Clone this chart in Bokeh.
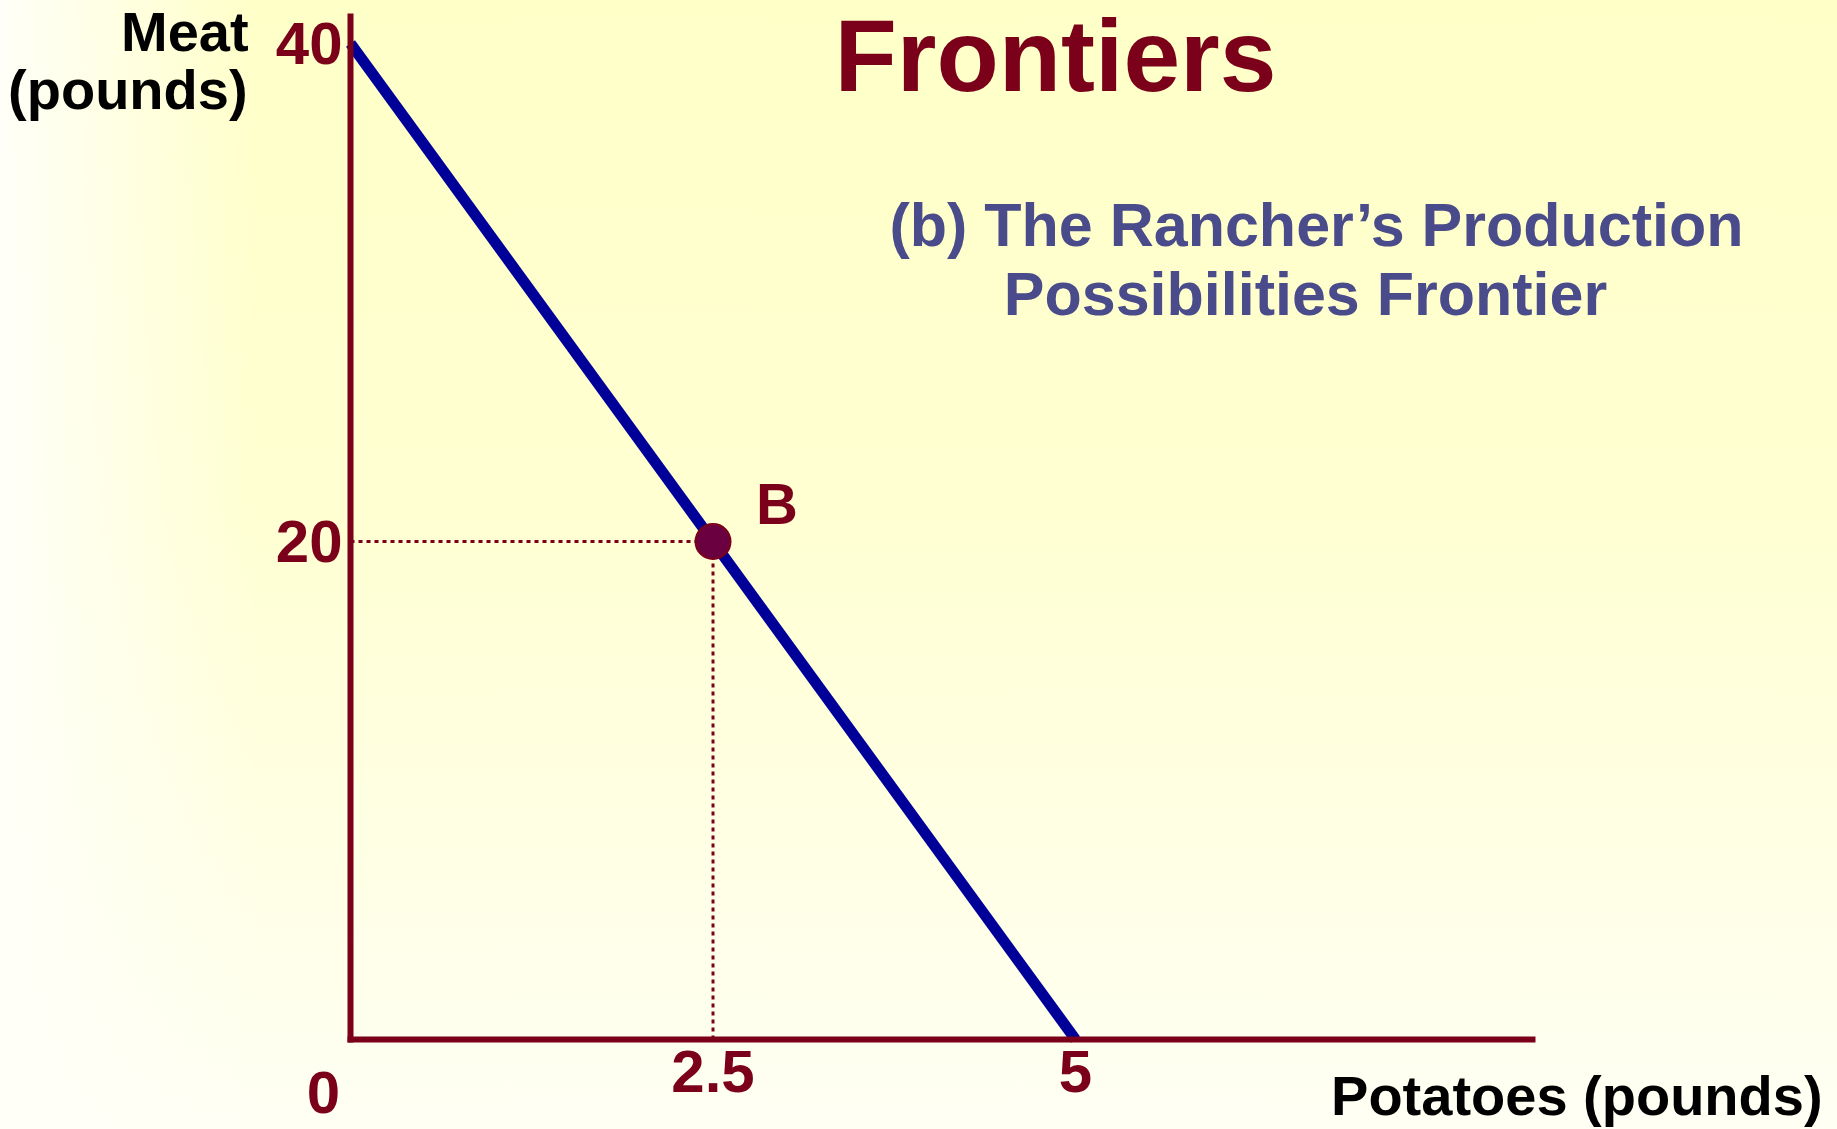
from bokeh.plotting import figure
from bokeh.models import Range1d, FixedTicker, Label
from bokeh.embed import file_html
from bokeh.resources import INLINE

# ---- data ----
ppf_potatoes = [0, 5]
ppf_meat = [40, 0]
point_potatoes = [2.5]
point_meat = [20]
point_name = "B"
x_ticks = [2.5, 5]
x_tick_labels = ["2.5", "5"]
y_ticks = [20, 40]
y_tick_labels = ["20", "40"]
x_axis_end = 8.15
y_axis_end = 41.08

DARK_RED = "#7B0019"
BLUE = "#000099"
SLATE = "#4A4B8A"
FONT = "Liberation Sans"

p = figure(width=1837, height=1129, output_backend="svg", toolbar_location=None,
           x_range=Range1d(-2.4138, 10.255), y_range=Range1d(-3.614, 41.727),
           min_border=0)
p.background_fill_alpha = 0
p.border_fill_alpha = 0
p.outline_line_color = None
p.grid.visible = False
p.styles = {"background": "linear-gradient(to right, rgba(255,255,248,1) 0%, rgba(255,255,248,0) 14%), "
                          "linear-gradient(to bottom, #FFFFC8 0%, #FFFFD2 45%, #FFFFF4 100%)"}

p.xaxis.fixed_location = 0
p.yaxis.fixed_location = 0
p.xaxis.bounds = (0, x_axis_end)
p.yaxis.bounds = (0, y_axis_end)

for ax, ticks, labels in ((p.xaxis[0], x_ticks, x_tick_labels), (p.yaxis[0], y_ticks, y_tick_labels)):
    ax.ticker = FixedTicker(ticks=ticks)
    ax.major_label_overrides = {t: l for t, l in zip(ticks, labels)}
    ax.axis_line_color = DARK_RED
    ax.axis_line_width = 6
    ax.axis_line_cap = "square"
    ax.major_tick_line_color = None
    ax.minor_tick_line_color = None
    ax.major_tick_out = 0
    ax.major_tick_in = 0
    ax.major_label_text_font = FONT
    ax.major_label_text_font_style = "bold"
    ax.major_label_text_font_size = "60px"
    ax.major_label_text_color = DARK_RED
p.xaxis.major_label_standoff = 11
p.yaxis.major_label_standoff = 8

# dotted guides
p.line([0, point_potatoes[0]], [point_meat[0], point_meat[0]], line_color=DARK_RED,
       line_width=3, line_dash="4 4")
p.line([point_potatoes[0], point_potatoes[0]], [0, point_meat[0]], line_color=DARK_RED,
       line_width=3, line_dash="4 4")

# PPF
p.line(ppf_potatoes, ppf_meat, line_color=BLUE, line_width=11)

# point B
p.scatter(point_potatoes, point_meat, size=35, fill_color="#6A0040", line_color=DARK_RED, line_width=2)
p.add_layout(Label(x=point_potatoes[0], y=point_meat[0], x_offset=64, y_offset=38, text=point_name,
                   text_font=FONT, text_font_style="bold", text_font_size="58px", text_color=DARK_RED,
                   text_align="center", text_baseline="middle"))

# origin label
p.add_layout(Label(x=0, y=0, x_offset=-27, y_offset=-53, text="0",
                   text_font=FONT, text_font_style="bold", text_font_size="60px", text_color=DARK_RED,
                   text_align="center", text_baseline="middle"))

# title and subtitle
p.add_layout(Label(x=4.862, y=39.5, text="Frontiers", text_font=FONT, text_font_style="bold",
                   text_font_size="102px", text_color=DARK_RED, text_align="center",
                   text_baseline="middle"))
p.add_layout(Label(x=6.662, y=32.73, text="(b) The Rancher\u2019s Production", text_font=FONT,
                   text_font_style="bold", text_font_size="61px", text_color=SLATE,
                   text_align="center", text_baseline="middle"))
p.add_layout(Label(x=6.586, y=29.92, text="Possibilities Frontier", text_font=FONT,
                   text_font_style="bold", text_font_size="61px", text_color=SLATE,
                   text_align="center", text_baseline="middle"))

# axis titles
p.add_layout(Label(x=-0.703, y=40.5, text="Meat", text_font=FONT, text_font_style="bold",
                   text_font_size="56px", text_color="black", text_align="right",
                   text_baseline="middle"))
p.add_layout(Label(x=-0.71, y=38.15, text="(pounds)", text_font=FONT, text_font_style="bold",
                   text_font_size="56px", text_color="black", text_align="right",
                   text_baseline="middle"))
p.add_layout(Label(x=10.152, y=-2.25, text="Potatoes (pounds)", text_font=FONT, text_font_style="bold",
                   text_font_size="56px", text_color="black", text_align="right",
                   text_baseline="middle"))

open("out.html", "w").write(file_html(p, INLINE))
